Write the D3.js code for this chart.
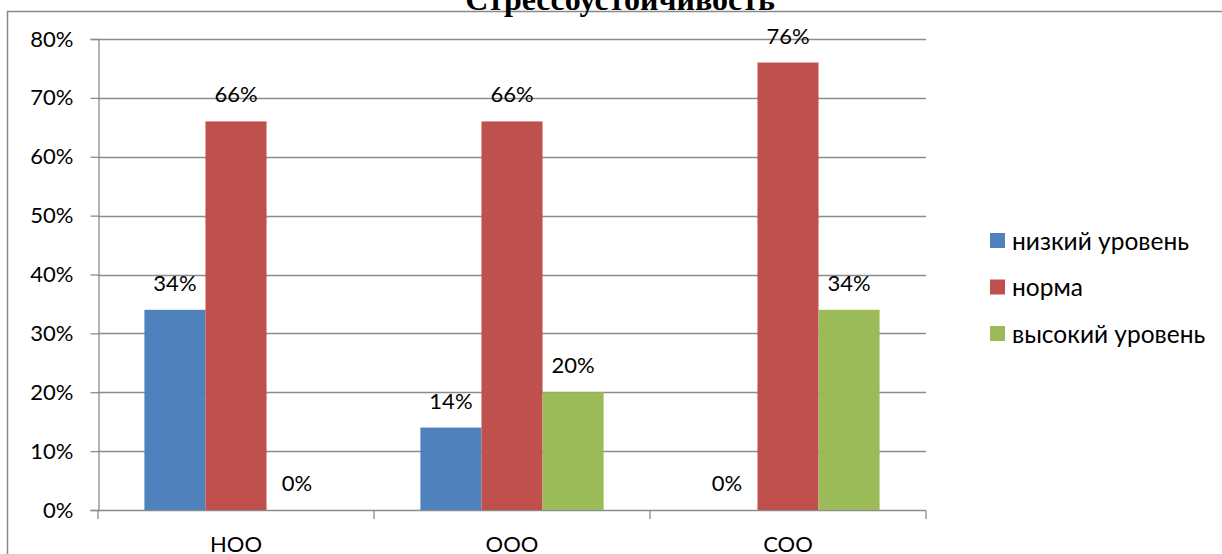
<!DOCTYPE html>
<html><head><meta charset="utf-8">
<script src="https://cdn.jsdelivr.net/npm/d3@7"></script>
<style>body{margin:0;background:#fff}svg{display:block}</style>
</head><body>
<svg id="c" width="1222" height="554"></svg>
<script>
const title = "Стрессоустойчивость";
const categories = ["НОО", "ООО", "СОО"];
const seriesNames = ["низкий уровень", "норма", "высокий уровень"];
const lowValues = [0.34, 0.14, 0.00];
const normValues = [0.66, 0.66, 0.76];
const highValues = [0.00, 0.20, 0.34];
const yTicks = [0, 0.1, 0.2, 0.3, 0.4, 0.5, 0.6, 0.7, 0.8];
const colors = ["#4F81BD", "#C0504D", "#9BBB59"];

const series = [lowValues, normValues, highValues];
const svg = d3.select("#c");
const FONT = "Lato, 'Open Sans', sans-serif";

// frame
svg.append("rect").attr("x", 7.5).attr("y", 11.5).attr("width", 1300).attr("height", 600)
  .attr("fill", "none").attr("stroke", "#898989").attr("stroke-width", 1.5);

svg.append("text").attr("x", 620).attr("y", 10).attr("text-anchor", "middle")
  .attr("font-family", "'Liberation Serif', 'Times New Roman', serif").attr("font-weight", "bold")
  .attr("font-size", 32).attr("fill", "#000").text(title);

const x0 = d3.scaleBand().domain(categories).range([98, 926]).paddingInner(0).paddingOuter(0);
const x1 = d3.scaleBand().domain(d3.range(series.length)).range([0, x0.bandwidth()]).paddingOuter(0.76).paddingInner(0);
const y = d3.scaleLinear().domain([0, 0.8]).range([510, 39]);

// gridlines
svg.append("g").selectAll("line").data(yTicks).join("line")
  .attr("x1", 98).attr("x2", 926).attr("y1", d => Math.round(y(d)) + 0.5).attr("y2", d => Math.round(y(d)) + 0.5)
  .attr("stroke", "#8c8c8c").attr("stroke-width", 1.3);

// y axis
const yAxis = d3.axisLeft(y).tickValues(yTicks).tickFormat(d3.format(".0%")).tickSize(8).tickPadding(17);
const gy = svg.append("g").attr("transform", "translate(98.5,0)").call(yAxis);
gy.selectAll("path,line").attr("stroke", "#8c8c8c").attr("stroke-width", 1.3);
gy.selectAll("text").attr("font-family", FONT).attr("font-size", 22).attr("fill", "#000");

// x axis
const xAxis = d3.axisBottom(x0).tickSize(0).tickPadding(26);
const gx = svg.append("g").attr("transform", "translate(0,510.5)").call(xAxis);
gx.select("path").remove();
gx.selectAll("text").attr("font-family", FONT).attr("font-size", 22).attr("fill", "#000");
const bounds = categories.map(c => x0(c)).concat([x0.range()[1]]);
svg.append("g").selectAll("line").data(bounds).join("line")
  .attr("x1", d => d).attr("x2", d => d).attr("y1", 510.5).attr("y2", 519)
  .attr("stroke", "#8c8c8c").attr("stroke-width", 1.3);

// bars
const groups = svg.append("g").selectAll("g").data(categories).join("g")
  .attr("transform", c => `translate(${x0(c)},0)`);
groups.each(function(c, ci) {
  const g = d3.select(this);
  series.forEach((vals, si) => {
    const v = vals[ci];
    g.append("rect").attr("x", x1(si)).attr("width", x1.bandwidth())
      .attr("y", y(v)).attr("height", y(0) - y(v)).attr("fill", colors[si]);
    g.append("text").attr("x", x1(si) + x1.bandwidth() / 2).attr("y", y(v) - 19)
      .attr("text-anchor", "middle").attr("font-family", FONT).attr("font-size", 22)
      .attr("fill", "#000").text(d3.format(".0%")(v));
  });
});

// legend
const lg = svg.append("g").selectAll("g").data(seriesNames).join("g")
  .attr("transform", (d, i) => `translate(990,${241 + i * 46.5})`);
lg.append("rect").attr("x", 0).attr("y", -8).attr("width", 15).attr("height", 15).attr("fill", (d, i) => colors[i]);
lg.append("text").attr("x", 22).attr("y", 0).attr("dy", "0.35em").attr("font-family", FONT)
  .attr("font-size", 24.5).attr("fill", "#000").text(d => d);
</script>
</body></html>
